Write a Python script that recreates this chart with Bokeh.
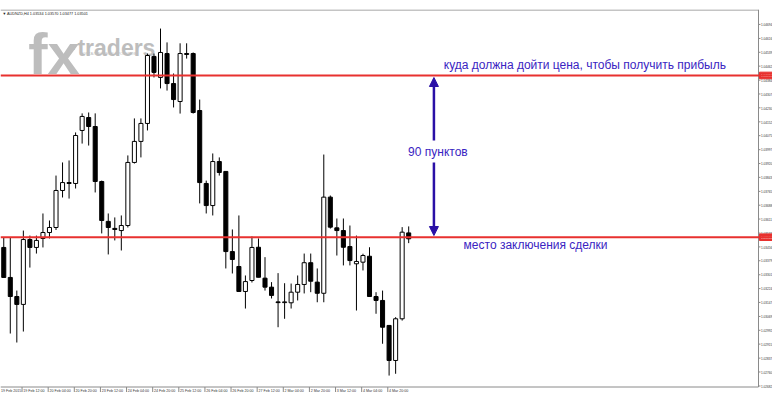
from bokeh.plotting import figure
from bokeh.models import Range1d, Span, Arrow, NormalHead, ColumnDataSource
from bokeh.core.properties import value
from bokeh.embed import file_html
from bokeh.resources import INLINE

# ---------------- data ----------------
symbol = "AUDNZD,H4"
opens = [1.03453, 1.03286, 1.03180, 1.03136, 1.03497, 1.03453, 1.03503, 1.03536, 1.03564, 1.03770,
         1.03814, 1.03809, 1.04104, 1.04176, 1.04126, 1.03820, 1.03598, 1.03559, 1.03547, 1.03575,
         1.03926, 1.04043, 1.04143, 1.04516, 1.04399, 1.04532, 1.04365, 1.04265, 1.04532, 1.04532,
         1.04215, 1.03809, 1.03686, 1.03931, 1.03876, 1.03430, 1.03347, 1.03208, 1.03269, 1.03454,
         1.03282, 1.03232, 1.03150, 1.03146, 1.03145, 1.03204, 1.03247, 1.03368, 1.03260, 1.03198,
         1.03733, 1.03562, 1.03547, 1.03458, 1.03362, 1.03371, 1.03404, 1.03180, 1.03158, 1.03019,
         1.02824, 1.03056, 1.03534]
highs = [1.03508, 1.03508, 1.03213, 1.03547, 1.03519, 1.03519, 1.03642, 1.03603, 1.03853, 1.03926,
         1.03937, 1.04093, 1.04199, 1.04204, 1.04199, 1.03825, 1.03642, 1.03620, 1.03631, 1.03965,
         1.04171, 1.04171, 1.04532, 1.04532, 1.04671, 1.04594, 1.04421, 1.04589, 1.04589, 1.04538,
         1.04276, 1.03825, 1.03976, 1.03954, 1.03876, 1.03553, 1.03631, 1.03297, 1.03514, 1.03503,
         1.03399, 1.03260, 1.03310, 1.03254, 1.03252, 1.03297, 1.03419, 1.03419, 1.03336, 1.03970,
         1.03742, 1.03614, 1.03614, 1.03575, 1.03519, 1.03418, 1.03454, 1.03204, 1.03213, 1.03019,
         1.03065, 1.03566, 1.03570]
lows = [1.03286, 1.02974, 1.02924, 1.02985, 1.03341, 1.03419, 1.03453, 1.03503, 1.03550, 1.03731,
        1.03725, 1.03781, 1.04031, 1.04020, 1.03759, 1.03531, 1.03414, 1.03492, 1.03436, 1.03564,
        1.03920, 1.03954, 1.04104, 1.04399, 1.04338, 1.04326, 1.04232, 1.04198, 1.04504, 1.04198,
        1.03698, 1.03642, 1.03631, 1.03853, 1.03336, 1.03308, 1.03208, 1.03113, 1.03258, 1.03287,
        1.03213, 1.03169, 1.03009, 1.03056, 1.03113, 1.03158, 1.03197, 1.03204, 1.03148, 1.03148,
        1.03558, 1.03408, 1.03353, 1.03353, 1.03102, 1.03325, 1.03180, 1.03084, 1.02917, 1.02740,
        1.02750, 1.03046, 1.03477]
closes = [1.03286, 1.03180, 1.03136, 1.03497, 1.03453, 1.03492, 1.03536, 1.03564, 1.03770, 1.03814,
          1.03809, 1.04076, 1.04182, 1.04126, 1.03820, 1.03603, 1.03564, 1.03553, 1.03575, 1.03926,
          1.04043, 1.04143, 1.04521, 1.04427, 1.04538, 1.04365, 1.04276, 1.04532, 1.04527, 1.04204,
          1.03814, 1.03686, 1.03931, 1.03870, 1.03430, 1.03386, 1.03208, 1.03263, 1.03453, 1.03287,
          1.03232, 1.03186, 1.03146, 1.03150, 1.03204, 1.03247, 1.03368, 1.03265, 1.03198, 1.03733,
          1.03566, 1.03547, 1.03454, 1.03380, 1.03375, 1.03408, 1.03180, 1.03158, 1.03009, 1.02824,
          1.03056, 1.03538, 1.03501]

time_tick_bars = [-1, 3, 7, 11, 15, 19, 23, 27, 31, 35, 39, 43, 47, 51, 55, 59]
time_tick_labels = ["19 Feb 2015", "19 Feb 12:00", "20 Feb 04:00", "20 Feb 20:00", "23 Feb 12:00",
                    "24 Feb 04:00", "24 Feb 20:00", "25 Feb 12:00", "26 Feb 04:00", "26 Feb 20:00",
                    "27 Feb 12:00", "2 Mar 04:00", "2 Mar 20:00", "3 Mar 12:00", "4 Mar 04:00",
                    "4 Mar 20:00"]
price_ticks = [1.04694, 1.04616, 1.04539, 1.04462, 1.04384, 1.04307, 1.04230, 1.04152, 1.04075,
               1.03997, 1.03920, 1.03843, 1.03765, 1.03688, 1.03611, 1.03533, 1.03456, 1.03379,
               1.03301, 1.03224, 1.03147, 1.03069, 1.02992, 1.02915, 1.02837, 1.02760, 1.02682]

entry_price = 1.0351
target_price = 1.0441
target_text = "куда должна дойти цена, чтобы получить прибыль"
distance_text = "90 пунктов"
entry_text = "место заключения сделки"
logo_big = "fx"
logo_small = "·traders"
logo_sub = "ПОРТАЛ ФОРЕКС БРОКЕРОВ"

# ---------------- layout helpers (reference pixel -> data) ----------------
BAR0_PX, BAR_PX = 3.3, 6.6
ENTRY_PY, PIP_PX = 236.7, 1.797
FIG_W, FIG_H = 772, 392
FRAME_TOP = 9                # reference y of the chart's top border
FRAME_BOTTOM_REF = 386.5     # reference y of the chart's bottom border
FRAME_RIGHT_REF = 766.0      # reference x of chart border
FRAME_RIGHT_OUT = 758.0      # where it lands in this figure (room for price scale)


def bx(px):
    return (px - BAR0_PX) / BAR_PX


def py(y):
    return entry_price + (ENTRY_PY - y) / PIP_PX * 0.0001


RED = "#e8312f"
TEXT_C = "#3a24c2"
ARROW_C = "#2a10a6"
FRAME_C = "#8a8a8a"
LOGO_C = "#bdbdbd"
SCALE_TXT = "#333333"

p = figure(width=FIG_W, height=FIG_H, output_backend="svg", toolbar_location=None,
           x_range=Range1d(bx(0), bx(FIG_W * FRAME_RIGHT_REF / FRAME_RIGHT_OUT)),
           y_range=Range1d(py(FIG_H), py(FRAME_TOP)),
           x_axis_location=None, y_axis_location=None,
           min_border_left=0, min_border_right=0, min_border_top=FRAME_TOP, min_border_bottom=0)
p.outline_line_color = None
p.xgrid.visible = False
p.ygrid.visible = False
p.background_fill_color = "white"
p.border_fill_color = "white"

# logo watermark
p.text(x=[bx(28)], y=[py(53)], text=[logo_big], text_font=value("Liberation Sans"),
       text_font_size="58px", text_font_style="bold", text_color=LOGO_C,
       text_baseline="alphabetic", text_align="left")
p.text(x=[bx(70)], y=[py(47)], text=[logo_small], text_font=value("Liberation Sans"),
       text_font_size="23px", text_font_style="bold", text_color=LOGO_C,
       text_baseline="alphabetic", text_align="left")
p.text(x=[bx(80)], y=[py(52.5)], text=[logo_sub], text_font=value("Liberation Sans"),
       text_font_size="4px", text_color=LOGO_C, text_baseline="middle", text_align="left")

# header
n = len(opens)
header = f"▼ {symbol}  {opens[-1]:.5f} {highs[-1]:.5f} {lows[-1]:.5f} {closes[-1]:.5f}"
p.text(x=[bx(2)], y=[py(13)], text=[header], text_font=value("Liberation Sans"),
       text_font_size="3.8px", text_color="#222222", text_baseline="middle", text_align="left")

# candles
src = ColumnDataSource(dict(
    x=list(range(n)), high=highs, low=lows,
    top=[max(o, c) for o, c in zip(opens, closes)],
    bottom=[min(o, c) for o, c in zip(opens, closes)],
    fill=["white" if c > o else "black" for o, c in zip(opens, closes)],
))
p.segment(x0="x", y0="low", x1="x", y1="high", source=src, line_color="black", line_width=1)
p.vbar(x="x", width=0.62, top="top", bottom="bottom", source=src,
       fill_color="fill", line_color="black", line_width=1)

# red level lines
for lvl in (target_price, entry_price):
    p.add_layout(Span(location=lvl, dimension="width", line_color=RED, line_width=2))

# frame borders (top, right, bottom)
p.segment(x0=[bx(0), bx(FRAME_RIGHT_REF), bx(0)],
          x1=[bx(FRAME_RIGHT_REF), bx(FRAME_RIGHT_REF), bx(FRAME_RIGHT_REF)],
          y0=[py(FRAME_TOP + 0.5), py(FRAME_TOP), py(FRAME_BOTTOM_REF)],
          y1=[py(FRAME_TOP + 0.5), py(FRAME_BOTTOM_REF), py(FRAME_BOTTOM_REF)],
          line_color=FRAME_C, line_width=1)

# right price scale
p.segment(x0=[bx(FRAME_RIGHT_REF)] * len(price_ticks), x1=[bx(768)] * len(price_ticks),
          y0=price_ticks, y1=price_ticks, line_color=FRAME_C, line_width=1)
p.text(x=[bx(768.5)] * len(price_ticks), y=price_ticks, text=[f"{v:.5f}" for v in price_ticks],
       text_font=value("Liberation Sans"), text_font_size="3.1px", text_color=SCALE_TXT,
       text_baseline="middle", text_align="left")

# level price boxes
half = 3.3 / PIP_PX * 0.0001
lv = [target_price, entry_price]
p.quad(left=[bx(767)] * 2, right=[bx(782)] * 2, top=[v + half for v in lv],
       bottom=[v - half for v in lv], fill_color=RED, line_color=RED)
p.text(x=[bx(768.5)] * 2, y=lv, text=[f"{v:.5f}" for v in lv], text_font=value("Liberation Sans"),
       text_font_size="3.1px", text_color="white", text_baseline="middle", text_align="left")

# time scale (MT4 style: separator tick, label to its right)
tick_x = [b - 0.2 for b in time_tick_bars]
p.segment(x0=tick_x, x1=tick_x, y0=[py(FRAME_BOTTOM_REF)] * len(tick_x),
          y1=[py(FRAME_BOTTOM_REF + 5)] * len(tick_x), line_color=FRAME_C, line_width=1)
label_x = [max(t + 0.2, bx(0.5)) for t in tick_x]
p.text(x=label_x, y=[py(390)] * len(tick_x), text=time_tick_labels,
       text_font=value("Liberation Sans"), text_font_size="3.6px", text_color=SCALE_TXT,
       text_baseline="middle", text_align="left")

# arrows
head = dict(size=9, fill_color=ARROW_C, line_color=ARROW_C)
p.add_layout(Arrow(end=NormalHead(**head), x_start=bx(438), y_start=py(140), x_end=bx(438),
                   y_end=py(77), line_color=ARROW_C, line_width=2.5))
p.add_layout(Arrow(end=NormalHead(**head), x_start=bx(438), y_start=py(162), x_end=bx(438),
                   y_end=py(235), line_color=ARROW_C, line_width=2.5))

# annotations
p.text(x=[bx(448)], y=[py(64)], text=[target_text], text_font=value("Liberation Sans"),
       text_font_size="12px", text_color=TEXT_C, text_baseline="middle", text_align="left")
p.text(x=[bx(442)], y=[py(151)], text=[distance_text], text_font=value("Liberation Sans"),
       text_font_size="12px", text_color=TEXT_C, text_baseline="middle", text_align="center")
p.text(x=[bx(468)], y=[py(244)], text=[entry_text], text_font=value("Liberation Sans"),
       text_font_size="12px", text_color=TEXT_C, text_baseline="middle", text_align="left")

open("out.html", "w").write(file_html(p, INLINE))
